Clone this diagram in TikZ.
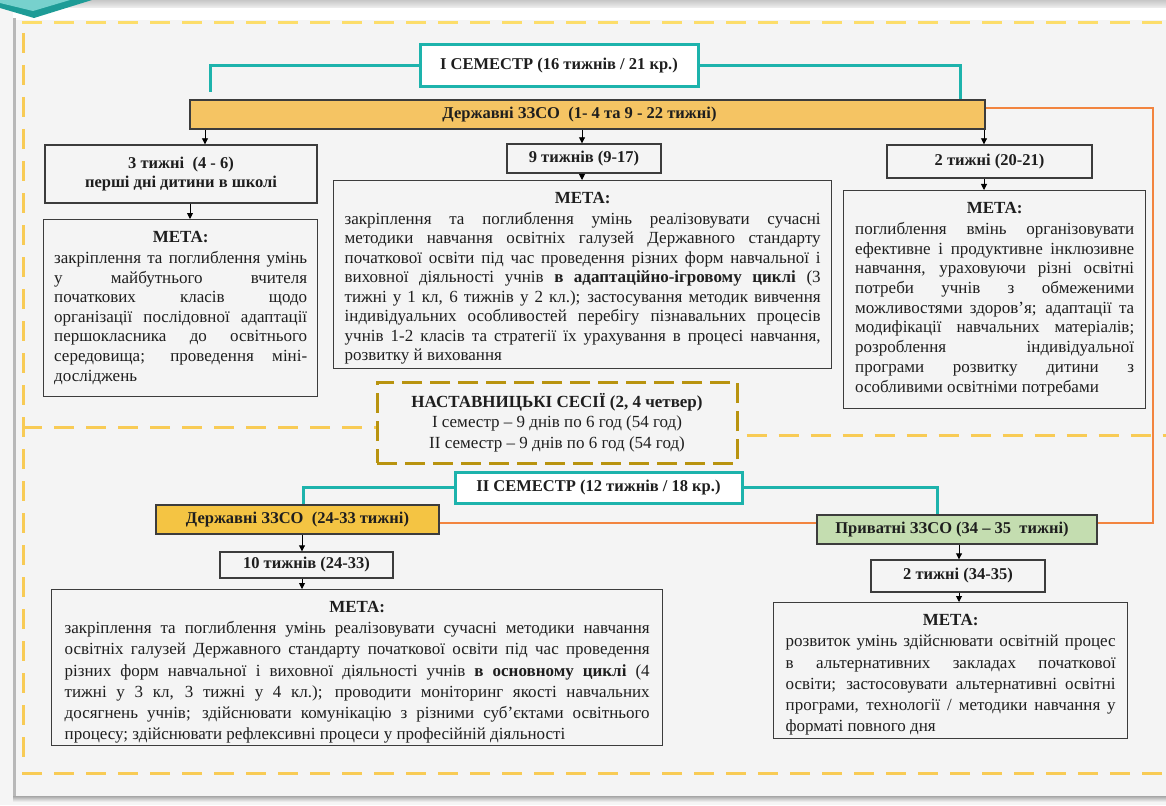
\documentclass[tikz,border=0pt]{standalone}
\usepackage{fontspec}
\setmainfont{Liberation Serif}
\usetikzlibrary{calc,arrows.meta}
\definecolor{tealc}{HTML}{1DB3AC}
\definecolor{tealdark}{HTML}{1E9C97}
\definecolor{panelc}{HTML}{F4F4F4}
\definecolor{boxc}{HTML}{3C3C3C}
\definecolor{barA}{HTML}{F5C463}
\definecolor{barB}{HTML}{F4C443}
\definecolor{greenc}{HTML}{C4DDB0}
\definecolor{orangec}{HTML}{F2843F}
\definecolor{dashY}{HTML}{F8CB55}
\definecolor{dashTop}{HTML}{FCDD6A}
\definecolor{goldc}{HTML}{B8930F}
\definecolor{txtc}{HTML}{1E1E1E}
\newcommand{\JL}[1]{\hbox to \hsize{#1}}
\newcommand{\LL}[1]{\hbox to \hsize{#1\hfil}}
\newcommand{\MH}{\hbox to \hsize{\hfil\bfseries МЕТА:\hfil}}
\begin{document}
\begin{tikzpicture}[x=1pt,y=-1pt,
  frame/.style={draw=boxc, line width=1.4pt, fill=panelc, inner sep=0pt, text=txtc},
  titlebox/.style={frame, font=\fontsize{16.5}{19}\selectfont\bfseries, align=center},
  mtext/.style={inner sep=0pt, anchor=north, text=txtc},
  tealbox/.style={draw=tealc, line width=3pt, fill=white, inner sep=0pt, text=txtc, font=\fontsize{16.5}{19}\selectfont\bfseries},
  tealline/.style={draw=tealc, line width=3pt},
  orline/.style={draw=orangec, line width=2.2pt},
  arr/.style={-{Triangle[length=6pt,width=6pt]}, line width=0.9pt, black},
  ydash/.style={draw=dashY, line width=3pt, dash pattern=on 20pt off 12pt}
]
\useasboundingbox (0,0) rectangle (1166,805);
% ---- background / slide frame
\fill[white!96!black] (0,0) rectangle (1166,805);
\shade[top color=black!22, bottom color=black!6] (0,0) rectangle (1166,8);
\fill[white] (13,8) rectangle (1166,20);
\fill[panelc] (16,20) rectangle (1166,796);
\fill[black!28] (13,18) rectangle (16,799);
\shade[top color=black!35, bottom color=black!8] (13,796) rectangle (1166,801);
\fill[tealdark] (0,0) -- (92,0) -- (34,18) -- (0,8) -- cycle;
\fill[tealc!60] (0,0) -- (70,0) -- (33,11) -- (0,3) -- cycle;
% ---- dashed frame
\draw[ydash, draw=dashTop] (22,23) -- (1166,23);
\draw[ydash] (23,33) -- (23,764);
\draw[ydash] (22,773) -- (1166,773);
% ---- nodes
\node[tealbox, minimum width=278pt, minimum height=42pt] (sem1) at (559,66) {I СЕМЕСТР (16 тижнів / 21 кр.)};
\node[titlebox, fill=barA, minimum width=795pt, minimum height=29pt] (bar1) at (587.5,114.5) {Державні ЗЗСО\ \ (1- 4 та 9 - 22 тижні)\hspace*{16pt}};
\node[titlebox, minimum width=272pt, minimum height=58pt] (t1) at (181,174) {3 тижні\ \ (4 - 6)\\перші дні дитини в школі};
\node[titlebox, minimum width=154pt, minimum height=29pt] (t2) at (584,158.5) {9 тижнів (9-17)};
\node[titlebox, minimum width=205pt, minimum height=33pt] (t3) at (989.5,161.5) {2 тижні (20-21)};
\node[frame, minimum width=274pt, minimum height=177pt, anchor=north west] (m1) at (43,219) {};
\node[frame, minimum width=498pt, minimum height=188pt, anchor=north west] (m2) at (333,180) {};
\node[frame, minimum width=302pt, minimum height=218pt, anchor=north west] (m3) at (843,190) {};
% middle dashed line and mentoring box
\node[draw=goldc, line width=3pt, dash pattern=on 20pt off 8pt, fill=panelc, minimum width=360pt, minimum height=81pt, inner sep=0pt, text=txtc, align=center, font=\fontsize{17}{20.5}\selectfont] (nast) at (557,422.5)
  {\textbf{НАСТАВНИЦЬКІ СЕСІЇ (2, 4 четвер)}\\I семестр – 9 днів по 6 год (54 год)\\II семестр – 9 днів по 6 год (54 год)};
\coordinate (dl) at (22,427);
\coordinate (dr) at (1166,435);
\draw[ydash] (dl) -- (nast.west |- dl);
\draw[ydash] ($(nast.east |- dr)+(8,0)$) -- (dr);
\node[tealbox, minimum width=287pt, minimum height=31pt] (sem2) at (598.5,487.5) {II СЕМЕСТР (12 тижнів / 18 кр.)};
\node[titlebox, fill=barB, minimum width=283pt, minimum height=29pt] (bar2) at (297.5,519.5) {Державні ЗЗСО\ \ (24-33 тижні)};
\node[titlebox, fill=greenc, minimum width=280pt, minimum height=29pt] (priv) at (957,529.5) {Приватні ЗЗСО (34 – 35\ \ тижні)\hspace*{10pt}};
\node[titlebox, minimum width=173pt, minimum height=26pt] (t4) at (306.5,565) {10 тижнів (24-33)};
\node[titlebox, minimum width=174pt, minimum height=32pt] (t5) at (958,576) {2 тижні (34-35)};
\node[frame, minimum width=611pt, minimum height=156pt, anchor=north west] (m4) at (51,589) {};
\node[frame, minimum width=354pt, minimum height=136pt, anchor=north west] (m5) at (773,602) {};
% ---- texts of goal boxes
\node[mtext, font=\fontsize{17}{19.6}\selectfont] (m1t) at ($(m1.north)+(0,12)$) {\vbox{\hsize=253pt
\MH\vskip1.5pt
\JL{закріплення та поглиблення умінь}
\JL{у майбутнього вчителя}
\JL{початкових класів щодо}
\JL{організації послідовної адаптації}
\JL{першокласника до освітнього}
\JL{середовища; проведення міні-}
\LL{досліджень}}};
\node[mtext, font=\fontsize{17}{19.5}\selectfont] (m2t) at ($(m2.north)+(0,12)$) {\vbox{\hsize=476pt
\MH\vskip1.5pt
\JL{закріплення та поглиблення умінь реалізовувати сучасні}
\JL{методики навчання освітніх галузей Державного стандарту}
\JL{початкової освіти під час проведення різних форм навчальної і}
\JL{виховної діяльності учнів \textbf{в адаптаційно-ігровому циклі} (3}
\JL{тижні у 1 кл, 6 тижнів у 2 кл.); застосування методик вивчення}
\JL{індивідуальних особливостей перебігу пізнавальних процесів}
\JL{учнів 1-2 класів та стратегії їх урахування в процесі навчання,}
\LL{розвитку й виховання}}};
\node[mtext, font=\fontsize{17}{19.7}\selectfont] (m3t) at ($(m3.north)+(0,12)$) {\vbox{\hsize=279pt
\MH\vskip1.3pt
\JL{поглиблення вмінь організовувати}
\JL{ефективне і продуктивне інклюзивне}
\JL{навчання, ураховуючи різні освітні}
\JL{потреби учнів з обмеженими}
\JL{можливостями здоров’я; адаптації та}
\JL{модифікації навчальних матеріалів;}
\JL{розроблення індивідуальної}
\JL{програми розвитку дитини з}
\LL{особливими освітніми потребами}}};
\node[mtext, font=\fontsize{17}{21.2}\selectfont] (m4t) at ($(m4.north)+(0,12)$) {\vbox{\hsize=585pt
\MH
\JL{закріплення та поглиблення умінь реалізовувати сучасні методики навчання}
\JL{освітніх галузей Державного стандарту початкової освіти під час проведення}
\JL{різних форм навчальної і виховної діяльності учнів \textbf{в основному циклі} (4}
\JL{тижні у 3 кл, 3 тижні у 4 кл.); проводити моніторинг якості навчальних}
\JL{досягнень учнів; здійснювати комунікацію з різними суб’єктами освітнього}
\LL{процесу; здійснювати рефлексивні процеси у професійній діяльності}}};
\node[mtext, font=\fontsize{17}{21.3}\selectfont] (m5t) at ($(m5.north)+(0,12)$) {\vbox{\hsize=330pt
\MH
\JL{розвиток умінь здійснювати освітній процес}
\JL{в альтернативних закладах початкової}
\JL{освіти; застосовувати альтернативні освітні}
\JL{програми, технології / методики навчання у}
\LL{форматі повного дня}}};
% ---- teal connectors
\coordinate (c1) at (210,0);
\coordinate (c2) at (960,0);
\coordinate (c3) at (303,0);
\coordinate (c4) at (937,0);
\draw[tealline, shorten >=7pt] (sem1.west) -| (bar1.north -| c1);
\draw[tealline] (sem1.east) -| (bar1.north -| c2);
\draw[tealline] (sem2.west) -| (bar2.north -| c3);
\draw[tealline] (sem2.east) -| (priv.north -| c4);
% ---- orange connectors
\coordinate (oc) at (1153,0);
\coordinate (oy) at (0,108);
\coordinate (oz) at (0,523);
\draw[orline] (bar1.east |- oy) -- (oc |- oy) -- (oc |- oz) -- (priv.east |- oz);
\draw[orline] (bar2.east |- oz) -- (priv.west |- oz);
% ---- arrows
\coordinate (a1) at (205,0);
\coordinate (a2) at (582,0);
\coordinate (a3) at (984,0);
\coordinate (a4) at (190,0);
\coordinate (a5) at (302,0);
\coordinate (a6) at (959,0);
\draw[arr] (bar1.south -| a1) -- (t1.north -| a1);
\draw[arr] (bar1.south -| a2) -- (t2.north -| a2);
\draw[arr] (bar1.south -| a3) -- (t3.north -| a3);
\draw[arr] (t1.south -| a4) -- (m1.north -| a4);
\draw[arr] (t2.south -| a2) -- (m2.north -| a2);
\draw[arr] (t3.south -| a3) -- (m3.north -| a3);
\draw[arr] (bar2.south -| a5) -- (t4.north -| a5);
\draw[arr] (t4.south -| a5) -- (m4.north -| a5);
\draw[arr] (priv.south -| a6) -- (t5.north -| a6);
\draw[arr] (t5.south -| a6) -- (m5.north -| a6);
\end{tikzpicture}
\end{document}
